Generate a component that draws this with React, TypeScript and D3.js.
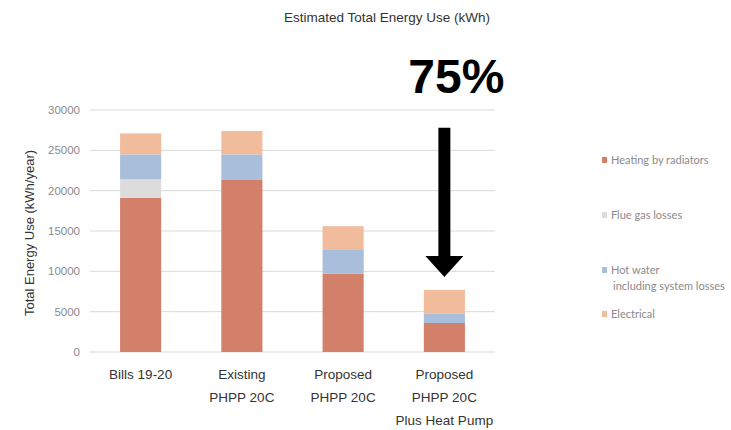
import { scaleBand, scaleLinear, stack } from "d3";

const categories = [
  ["Bills 19-20"],
  ["Existing", "PHPP 20C"],
  ["Proposed", "PHPP 20C"],
  ["Proposed", "PHPP 20C", "Plus Heat Pump"],
];
const heating = [19100, 21400, 9700, 3600];
const flueGas = [2300, 0, 0, 0];
const hotWater = [3100, 3100, 2950, 1200];
const electrical = [2600, 2900, 2950, 2900];
const yTicks = [0, 5000, 10000, 15000, 20000, 25000, 30000];
const seriesNames = ["heating", "flue", "hotWater", "electrical"];
const legendLabels = [
  ["Heating by radiators"],
  ["Flue gas losses"],
  ["Hot water", "including system losses"],
  ["Electrical"],
];
const COLORS = ["#d2806a", "#dcdcdc", "#a9bedb", "#f0bc9b"];

const W = 731;
const H = 430;
const PLOT = { left: 90, right: 495, top: 110, bottom: 352 };

export default function App() {
  const x = scaleBand<number>()
    .domain(categories.map((_, i) => i))
    .range([PLOT.left, PLOT.right])
    .paddingInner(0.594)
    .paddingOuter(0.297);
  const y = scaleLinear().domain([0, 30000]).range([PLOT.bottom, PLOT.top]);

  const rows = categories.map((_, i) => ({
    i,
    heating: heating[i],
    flue: flueGas[i],
    hotWater: hotWater[i],
    electrical: electrical[i],
  }));
  const layers = stack<any>().keys(seriesNames)(rows);

  // arrow over the last bar
  const last = categories.length - 1;
  const ax = x(last)! + x.bandwidth() / 2;
  const total = heating[last] + flueGas[last] + hotWater[last] + electrical[last];
  const tipY = y(total) - 13;
  const topY = y(27800);
  const headH = 21;

  const legendY = [160, 215, 270, 314];

  return (
    <svg
      width={W}
      height={H}
      style={{ position: "absolute", left: 0, top: 0, background: "#fff" }}
      fontFamily="'Liberation Sans', Arial, sans-serif"
    >
      <text x={387} y={22} textAnchor="middle" fontSize={13.5} fill="#333">
        Estimated Total Energy Use (kWh)
      </text>

      {yTicks.map((t) => (
        <g key={t}>
          <line x1={PLOT.left} x2={PLOT.right} y1={y(t)} y2={y(t)} stroke="#d9d9d9" />
          <text x={80} y={y(t) + 4} textAnchor="end" fontSize={11.5} fill="#8a8a8a">
            {t}
          </text>
        </g>
      ))}

      <text
        transform={`translate(34, ${(PLOT.top + PLOT.bottom) / 2 + 2}) rotate(-90)`}
        textAnchor="middle"
        fontSize={13}
        fill="#333"
      >
        Total Energy Use (kWh/year)
      </text>

      {layers.map((layer, k) => (
        <g key={layer.key} fill={COLORS[k]}>
          {layer.map((d, i) =>
            d[1] - d[0] > 0 ? (
              <rect
                key={i}
                x={x(i)}
                width={x.bandwidth()}
                y={y(d[1])}
                height={y(d[0]) - y(d[1])}
              />
            ) : null
          )}
        </g>
      ))}

      {categories.map((lines, i) => (
        <text
          key={i}
          x={x(i)! + x.bandwidth() / 2}
          textAnchor="middle"
          fontSize={13.5}
          fill="#333"
        >
          {lines.map((l, j) => (
            <tspan key={j} x={x(i)! + x.bandwidth() / 2} y={379 + j * 23}>
              {l}
            </tspan>
          ))}
        </text>
      ))}

      <text x={ax + 12} y={93} textAnchor="middle" fontSize={48} fontWeight="bold" fill="#000">
        75%
      </text>
      <rect x={ax - 6} y={topY} width={12} height={tipY - headH - topY + 1} fill="#000" />
      <path
        d={`M${ax - 19},${tipY - headH} L${ax + 19},${tipY - headH} L${ax},${tipY} Z`}
        fill="#000"
      />

      {legendLabels.map((lines, k) => (
        <g key={k}>
          <rect x={602} y={legendY[k] - 3} width={5} height={6} fill={COLORS[k]} />
          <text fontSize={11} fill="#8a8a8a" fontFamily="Lato, 'Open Sans', sans-serif">
            {lines.map((l, j) => (
              <tspan key={j} x={j === 0 ? 611 : 613} y={legendY[k] + 4 + j * 15.5}>
                {l}
              </tspan>
            ))}
          </text>
        </g>
      ))}
    </svg>
  );
}
